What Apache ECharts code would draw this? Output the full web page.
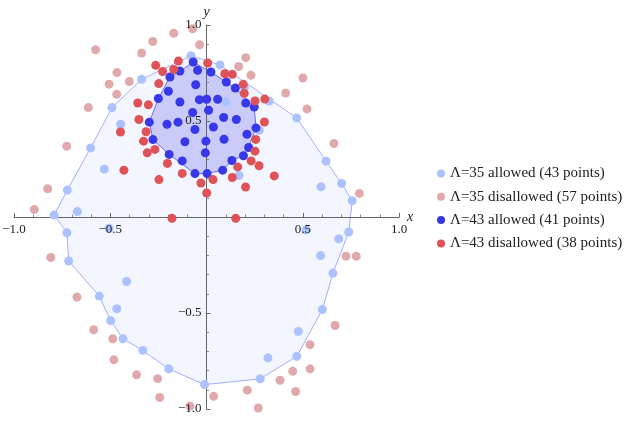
<!DOCTYPE html>
<html><head><meta charset="utf-8">
<script src="https://cdn.jsdelivr.net/npm/echarts@6/dist/echarts.min.js"></script>
<style>html,body{margin:0;padding:0;background:#fff}#c{width:634px;height:421px}</style>
</head><body><div id="c"></div>
<script>
// Λ=35 allowed
const allowed35 = [
 [-0.081,0.840],[-0.337,0.717],[-0.491,0.570],[-0.446,0.483],[-0.602,0.360],[-0.531,0.249],[-0.723,0.140],[-0.792,0.010],[-0.671,0.028],
 [0.070,0.792],[0.326,0.604],[0.469,0.516],[0.274,0.452],[0.621,0.291],[0.595,0.157],[0.702,0.175],[0.757,0.085],[0.101,0.600],[0.169,0.216],[0.197,0.675],
 [-0.725,-0.082],[-0.716,-0.229],[-0.415,-0.336],[-0.557,-0.412],[-0.466,-0.478],[-0.498,-0.540],[-0.434,-0.634],[-0.331,-0.695],[-0.196,-0.791],[-0.010,-0.873],[-0.506,-0.059],
 [0.279,-0.843],[0.469,-0.726],[0.319,-0.734],[0.477,-0.596],[0.602,-0.482],[0.657,-0.292],[0.593,-0.201],[0.687,-0.114],[0.739,-0.078],[0.517,-0.068]
];
// boundary of Λ=35 allowed region (indices into allowed35, 1-based)
const boundary35 = [1,10,12,14,16,17,40,37,36,33,32,30,29,28,27,26,24,22,21,8,7,5,3,2];
// Λ=35 disallowed
const disallowed35 = [
 [-0.072,0.980],[-0.170,0.957],[-0.279,0.914],[-0.036,0.897],[-0.576,0.871],[-0.337,0.854],[-0.465,0.752],[-0.401,0.706],[-0.506,0.692],[-0.466,0.639],
 [-0.614,0.570],[-0.726,0.369],[-0.825,0.147],[-0.895,0.039],[0.204,0.830],[0.167,0.784],[0.231,0.738],[0.501,0.724],[0.411,0.646],[0.522,0.563],
 [0.662,0.383],[0.794,0.123],[-0.809,-0.211],[-0.673,-0.417],[-0.586,-0.587],[-0.487,-0.634],[-0.481,-0.744],[-0.363,-0.822],[-0.254,-0.842],[-0.243,-0.940],
 [-0.086,-0.985],[0.725,-0.204],[0.778,-0.204],[0.668,-0.565],[0.538,-0.665],[0.448,-0.804],[0.538,-0.791],[0.382,-0.850],[0.463,-0.909],[0.212,-0.902],
 [0.037,-0.934],[0.269,-0.995]
];
// Λ=43 allowed
const allowed43 = [
 [-0.069,0.807],[-0.046,0.764],[-0.138,0.760],[0.023,0.755],[-0.190,0.729],[0.103,0.703],[-0.056,0.689],[0.150,0.672],[-0.198,0.655],[-0.250,0.617],
 [-0.138,0.599],[-0.037,0.611],[0.001,0.613],[0.058,0.613],[0.204,0.594],[0.248,0.573],[0.011,0.556],[-0.072,0.544],[0.089,0.518],[0.155,0.508],
 [-0.297,0.494],[-0.205,0.483],[-0.148,0.494],[-0.060,0.456],[0.036,0.469],[0.257,0.464],[0.210,0.431],[-0.278,0.403],[-0.112,0.392],[-0.003,0.395],
 [0.091,0.405],[0.219,0.362],[-0.006,0.334],[-0.194,0.326],[0.192,0.319],[-0.126,0.292],[0.132,0.294],[0.084,0.244],[-0.060,0.226],[0.003,0.226]
];
const boundary43 = [1,4,6,8,16,26,32,35,37,38,40,39,34,28,21,10,5,3];
// Λ=43 disallowed
const disallowed43 = [
 [-0.146,0.812],[-0.264,0.790],[-0.228,0.758],[-0.170,0.768],[0.006,0.802],[0.095,0.746],[0.134,0.743],[-0.248,0.695],[0.191,0.691],[-0.357,0.594],
 [-0.302,0.584],[0.252,0.604],[0.303,0.614],[-0.351,0.508],[-0.447,0.443],[0.301,0.495],[-0.314,0.444],[-0.327,0.395],[0.256,0.404],[-0.308,0.334],
 [-0.268,0.352],[0.252,0.343],[0.232,0.292],[-0.203,0.279],[0.273,0.267],[-0.429,0.244],[-0.126,0.227],[0.134,0.206],[0.034,0.195],[-0.247,0.195],
 [-0.029,0.177],[0.203,0.156],[0.352,0.214],[0.001,0.125],[0.196,0.644],[0.162,0.261],[-0.179,-0.007],[0.152,-0.007]
];
const seriesNames = ['Λ=35 allowed (43 points)','Λ=35 disallowed (57 points)','Λ=43 allowed (41 points)','Λ=43 disallowed (38 points)'];
const tickValues = [-1,-0.5,0.5,1];

const C_LB = 'rgb(172,194,255)', C_LR = 'rgb(224,170,172)', C_DB = 'rgb(56,56,235)', C_DR = 'rgb(222,82,88)';
const FONT = 'Liberation Serif';
const GW = 385, GH = 384;

function polySeries(pts, bnd, fill, stroke){
  const verts = bnd.map(i => pts[i-1]);
  return {
    type:'custom', silent:true, z:1,
    data:[verts[0]],
    renderItem:function(params, api){
      const p = verts.map(v => api.coord(v));
      return {type:'polygon', shape:{points:p}, style:{fill:fill, stroke:stroke, lineWidth:0.9}};
    }
  };
}
function scat(name, data, color, z){
  return {name:name, type:'scatter', data:data, symbolSize:9, z:z, clip:false,
    itemStyle:{color:color, opacity:1}, emphasis:{disabled:true}};
}
const chart = echarts.init(document.getElementById('c'), null, {renderer:'canvas'});
const labelFmt = v => tickValues.some(t => Math.abs(t-v)<1e-9) ? (v<0?'−':'')+Math.abs(v).toFixed(1) : '';
const lineAxis = {
  type:'value', min:-1, max:1, interval:0.5, z:1.5,
  axisLine:{onZero:false, lineStyle:{color:'#666', width:1}},
  axisTick:{show:true, inside:true, length:4, lineStyle:{color:'#666'}},
  minorTick:{show:true, splitNumber:5, length:2.5, lineStyle:{color:'#888'}},
  splitLine:{show:false}, axisLabel:{show:false},
  nameTextStyle:{fontFamily:FONT, fontStyle:'italic', fontSize:14, color:'#222'}
};
const labelAxis = {
  type:'value', min:-1, max:1, interval:0.5, z:10,
  axisLine:{show:false, onZero:false}, axisTick:{show:false}, minorTick:{show:false}, splitLine:{show:false}
};
chart.setOption({
  animation:false,
  grid:{left:14, top:25, width:GW, height:GH, containLabel:false, outerBoundsMode:'none'},
  xAxis:[
    Object.assign({}, lineAxis, {name:'x', nameGap:8, position:'bottom', offset:-GH/2}),
    Object.assign({}, labelAxis, {position:'bottom', offset:-GH/2,
      axisLabel:{fontFamily:FONT, fontSize:13, color:'#222', margin:6, formatter:labelFmt}})
  ],
  yAxis:[
    Object.assign({}, lineAxis, {name:'y', nameGap:6, position:'left', offset:-GW/2}),
    Object.assign({}, labelAxis, {position:'left', offset:-GW/2,
      axisLabel:{fontFamily:FONT, fontSize:13, color:'#222', margin:5, formatter:labelFmt}})
  ],
  legend:{
    data:seriesNames, orient:'vertical', left:432, top:161, itemGap:8.3,
    itemWidth:8, itemHeight:8, icon:'circle',
    textStyle:{fontFamily:FONT, fontSize:15, color:'#222', lineHeight:14}
  },
  series:[
    polySeries(allowed35, boundary35, 'rgba(235,238,255,0.55)', 'rgba(140,155,255,0.9)'),
    polySeries(allowed43, boundary43, 'rgba(150,150,240,0.45)', 'rgba(80,80,230,0.9)'),
    scat(seriesNames[0], allowed35, C_LB, 3),
    scat(seriesNames[1], disallowed35, C_LR, 3),
    scat(seriesNames[2], allowed43, C_DB, 4),
    scat(seriesNames[3], disallowed43, C_DR, 4)
  ]
});
</script></body></html>
